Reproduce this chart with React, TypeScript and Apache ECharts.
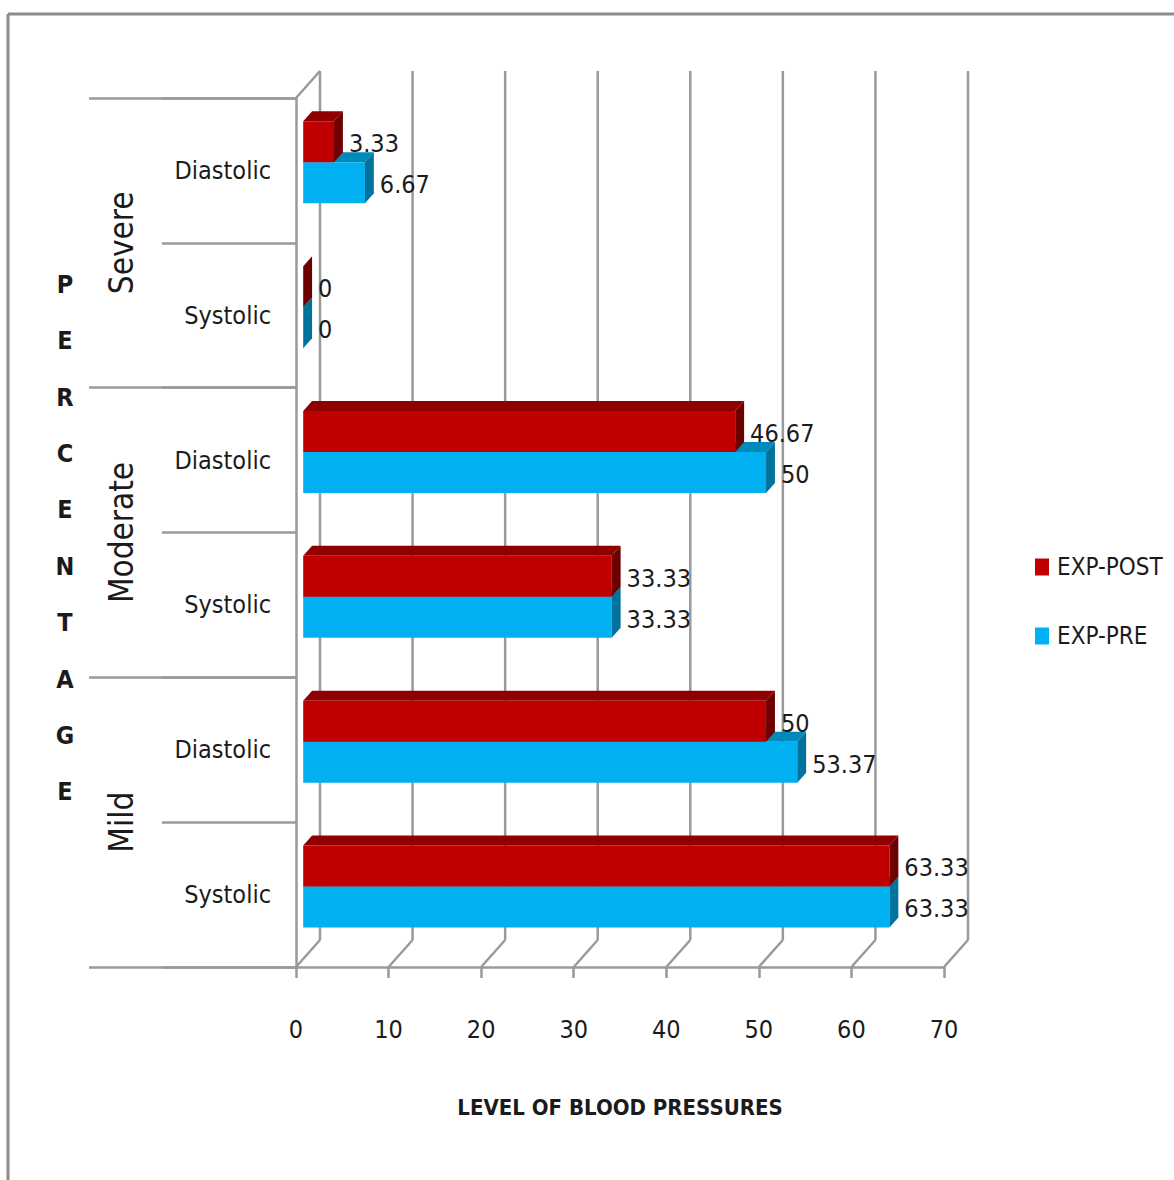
import React, { useEffect, useRef } from "react";
import * as echarts from "echarts";

// Category rows, bottom to top
const rowLabels = ["Systolic", "Diastolic", "Systolic", "Diastolic", "Systolic", "Diastolic"];
// Severity groups, bottom to top (each spans two rows)
const groupLabels = ["Mild", "Moderate", "Severe"];
// Percentages per row
const expPost = [63.33, 50, 33.33, 46.67, 0, 3.33];
const expPre = [63.33, 53.37, 33.33, 50, 0, 6.67];
// Value-axis ticks
const xTicks = [0, 10, 20, 30, 40, 50, 60, 70];

const FONT = '"DejaVu Sans Condensed", "Liberation Sans Narrow", "DejaVu Sans", sans-serif';
const GRID_COLOR = "#9a9a9a";
const TEXT_COLOR = "#1b1b1b";

// Perspective offset of the back wall relative to the front plane
const DEPTH_X = 24;
const DEPTH_Y = -27;
// Bars sit between these fractions of the depth
const BAR_FRONT = 0.3;
const BAR_BACK = 0.67;
const BAR_FRACTION = 0.283;

type Faces = { front: string; top: string; side: string };

function barRenderer(faces: Faces, slot: number) {
  return (params: any, api: any) => {
    const v = api.value(0);
    const c = api.value(1);
    const start = api.coord([0, c]);
    const end = api.coord([v, c]);
    const band = api.size([0, 1])[1];
    const h = band * BAR_FRACTION;
    const fx = DEPTH_X * BAR_FRONT;
    const fy = DEPTH_Y * BAR_FRONT;
    const dx = DEPTH_X * (BAR_BACK - BAR_FRONT);
    const dy = DEPTH_Y * (BAR_BACK - BAR_FRONT);
    const x0 = start[0] + fx;
    const x1 = end[0] + fx;
    const yTop = start[1] + fy - (slot === 0 ? h : 0);
    const yBot = yTop + h;
    return {
      type: "group",
      children: [
        {
          type: "polygon",
          shape: { points: [[x0, yTop], [x1, yTop], [x1 + dx, yTop + dy], [x0 + dx, yTop + dy]] },
          style: { fill: faces.top },
        },
        {
          type: "polygon",
          shape: { points: [[x0, yTop], [x1, yTop], [x1, yBot], [x0, yBot]] },
          style: { fill: faces.front },
        },
        {
          type: "polygon",
          shape: { points: [[x1, yTop], [x1 + dx, yTop + dy], [x1 + dx, yBot + dy], [x1, yBot]] },
          style: { fill: faces.side },
        },
        {
          type: "text",
          x: x1 + dx + 6,
          y: (yTop + yBot) / 2 + 2,
          style: {
            text: String(v),
            fill: TEXT_COLOR,
            font: `25px ${FONT}`,
            textAlign: "left",
            textVerticalAlign: "middle",
          },
        },
      ],
    };
  };
}

function wallRenderer(params: any, api: any) {
  const cs = params.coordSys;
  const t = api.value(0);
  const x = api.coord([t, 0])[0];
  const yB = cs.y + cs.height;
  const yT = cs.y;
  const ls = { stroke: GRID_COLOR, lineWidth: 2.5 };
  const children: any[] = [
    { type: "line", shape: { x1: x, y1: yB, x2: x + DEPTH_X, y2: yB + DEPTH_Y }, style: ls },
    { type: "line", shape: { x1: x + DEPTH_X, y1: yB + DEPTH_Y, x2: x + DEPTH_X, y2: yT + DEPTH_Y }, style: ls },
  ];
  if (t === xTicks[0]) {
    children.push({ type: "line", shape: { x1: x, y1: yT, x2: x + DEPTH_X, y2: yT + DEPTH_Y }, style: ls });
  }
  return { type: "group", children };
}

export default function App() {
  const ref = useRef<HTMLDivElement>(null);

  useEffect(() => {
    if (!ref.current) return;
    const chart = echarts.init(ref.current, undefined, { renderer: "svg" });
    const axisLine = { show: true, lineStyle: { color: GRID_COLOR, width: 2.5 } };

    chart.setOption({
      animation: false,
      backgroundColor: "#ffffff",
      grid: { left: 296, top: 98, width: 648, height: 869 },
      xAxis: {
        type: "value",
        min: 0,
        max: 70,
        interval: 10,
        axisLine,
        axisTick: { show: true, length: 11, lineStyle: { color: GRID_COLOR, width: 2.5 } },
        splitLine: { show: false },
        axisLabel: { margin: 50, fontSize: 25, fontFamily: FONT, color: TEXT_COLOR },
        name: "LEVEL OF BLOOD PRESSURES",
        nameLocation: "middle",
        nameGap: 129,
        nameTextStyle: { fontSize: 22, fontWeight: "bold", fontFamily: FONT, color: TEXT_COLOR },
      },
      yAxis: [
        {
          type: "category",
          data: rowLabels,
          position: "left",
          axisLine,
          axisTick: { show: true, length: 134, lineStyle: { color: GRID_COLOR, width: 2.5 } },
          axisLabel: { interval: 0, margin: 25, fontSize: 25, fontFamily: FONT, color: TEXT_COLOR },
          splitLine: { show: false },
        },
        {
          type: "category",
          data: groupLabels,
          position: "left",
          offset: 0,
          axisLine: { show: false },
          axisTick: { show: true, length: 207, lineStyle: { color: GRID_COLOR, width: 2.5 } },
          axisLabel: { interval: 0, rotate: 90, margin: 158, fontSize: 33, fontFamily: FONT, color: TEXT_COLOR },
          splitLine: { show: false },
        },
      ],
      legend: {
        orient: "vertical",
        left: 1035,
        top: 555,
        padding: 0,
        itemWidth: 14,
        itemHeight: 17,
        itemGap: 45,
        icon: "rect",
        data: ["EXP-POST", "EXP-PRE"],
        textStyle: { fontSize: 24, fontFamily: FONT, color: TEXT_COLOR, padding: [0, 0, 0, 3] },
      },
      graphic: [
        { type: "line", shape: { x1: 8, y1: 14, x2: 1174, y2: 14 }, style: { stroke: "#8c8c8c", lineWidth: 3 } },
        { type: "line", shape: { x1: 8, y1: 14, x2: 8, y2: 1180 }, style: { stroke: "#8c8c8c", lineWidth: 3 } },
        {
          type: "text",
          x: 65,
          y: 538,
          style: {
            text: "PERCENTAGE".split("").join("\n"),
            font: `bold 25px ${FONT}`,
            fill: TEXT_COLOR,
            textAlign: "center",
            textVerticalAlign: "middle",
            lineHeight: 56.4,
          },
        },
      ],
      series: [
        {
          type: "custom",
          name: "wall",
          silent: true,
          z: 1,
          renderItem: wallRenderer,
          encode: { x: 0, y: 1 },
          data: xTicks.map((t) => [t, 0]),
        },
        {
          type: "custom",
          name: "EXP-PRE",
          z: 2,
          itemStyle: { color: "#00B0F0" },
          renderItem: barRenderer({ front: "#00B0F0", top: "#0089BB", side: "#00739C" }, 1),
          encode: { x: 0, y: 1 },
          data: expPre.map((v, i) => [v, i]),
        },
        {
          type: "custom",
          name: "EXP-POST",
          z: 3,
          itemStyle: { color: "#C00000" },
          renderItem: barRenderer({ front: "#C00000", top: "#900000", side: "#6E0000" }, 0),
          encode: { x: 0, y: 1 },
          data: expPost.map((v, i) => [v, i]),
        },
      ],
    });
    return () => chart.dispose();
  }, []);

  return (
    <div
      ref={ref}
      style={{ position: "absolute", left: 0, top: 0, width: 1174, height: 1180, background: "#fff" }}
    />
  );
}
